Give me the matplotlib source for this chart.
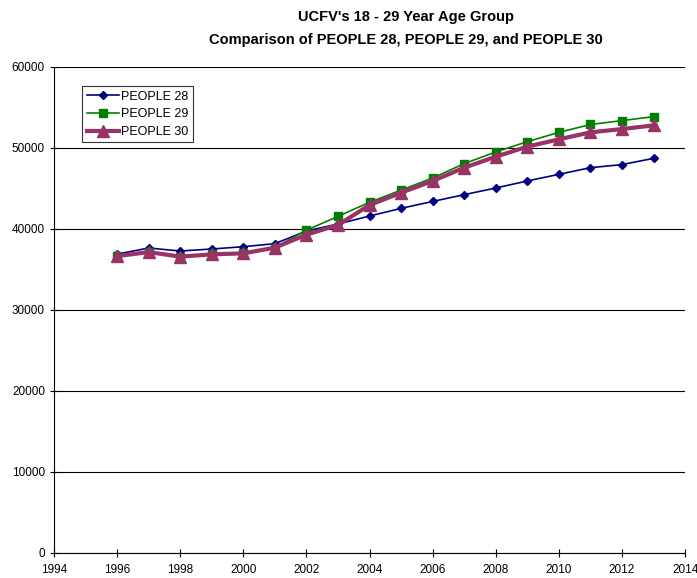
import numpy as np
import matplotlib.pyplot as plt

plt.rcParams["font.family"] = ["Liberation Sans", "DejaVu Sans"]

years = list(range(1996, 2014))
people_28 = [36900, 37650, 37280, 37530, 37810, 38190, 39750, 40620, 41600,
             42550, 43400, 44240, 45060, 45930, 46750, 47570, 47950, 48720]
people_29 = [36700, 37100, 36600, 36900, 37000, 37700, 39850, 41560, 43300,
             44800, 46300, 48070, 49510, 50780, 51930, 52900, 53380, 53870]
people_30 = [36650, 37150, 36580, 36870, 36990, 37700, 39300, 40500, 42960,
             44480, 45930, 47570, 48930, 50170, 51070, 51930, 52340, 52790]

fig = plt.figure(figsize=(6.97, 5.78), dpi=100)
ax = fig.add_axes([0.0775, 0.0433, 0.9055, 0.8408])

ax.plot(years, people_28, label="PEOPLE 28", color="#000080", linewidth=1.2,
        marker="D", markersize=4.5)
ax.plot(years, people_29, label="PEOPLE 29", color="#008000", linewidth=1.2,
        marker="s", markersize=5.5)
ax.plot(years, people_30, label="PEOPLE 30", color="#993366", linewidth=3,
        marker="^", markersize=8.5)

ax.set_xlim(1994, 2014)
ax.set_ylim(0, 60000)
ax.set_xticks(np.arange(1994, 2015, 2))
ax.set_yticks(np.arange(0, 60001, 10000))
ax.tick_params(labelsize=8.5, direction="inout", length=6, width=0.8)
ax.tick_params(axis="x", pad=5)
ax.grid(axis="y", color="black", linewidth=0.8)
ax.set_axisbelow(True)
for side in ["top", "right"]:
    ax.spines[side].set_visible(False)

fig.suptitle("UCFV's 18 - 29 Year Age Group\nComparison of PEOPLE 28, PEOPLE 29, and PEOPLE 30",
             fontsize=10.5, fontweight="bold", y=0.982, x=0.583, linespacing=1.75)

leg = ax.legend(loc="upper left", bbox_to_anchor=(0.035, 0.973), fontsize=9,
                frameon=True, fancybox=False, edgecolor="black",
                handlelength=2.6, borderpad=0.35, labelspacing=0.45, handletextpad=0.15)
leg.get_frame().set_linewidth(0.8)

fig.savefig("out.png", dpi=100)
